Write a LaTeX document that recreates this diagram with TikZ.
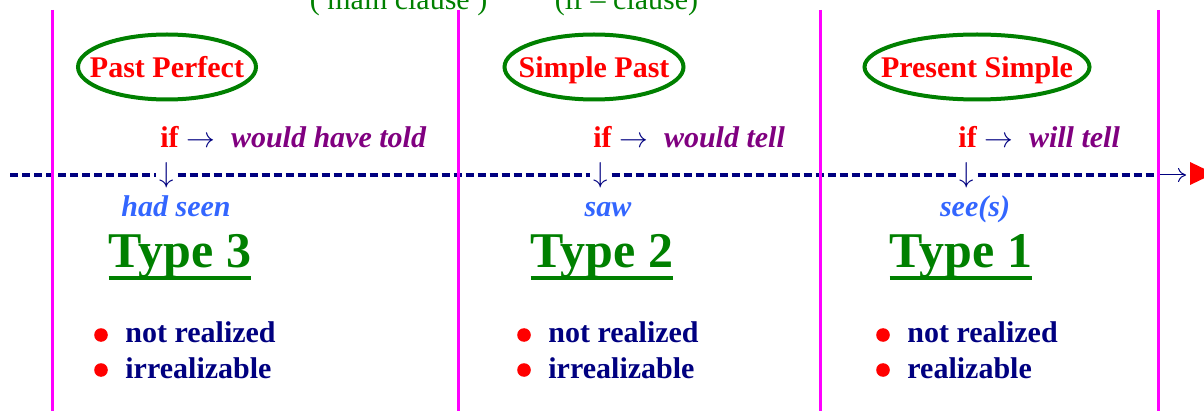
\documentclass[tikz,border=0pt]{standalone}
\usepackage{fontspec}
\setmainfont{Liberation Serif}
\usetikzlibrary{arrows.meta}

\begin{document}
\begin{tikzpicture}[x=0.5pt,y=-0.5pt, font=\fontsize{15}{18}\selectfont,
    zeitform/.style={text=red, font=\bfseries\fontsize{15}{18}\selectfont,
        inner sep=0pt, text height=10.5pt, text depth=0pt},
    ring/.style={draw=darkgreen, line width=2pt},
    kopf/.style={text=darkgreen, inner sep=0pt, anchor=base},
    marke/.style={text=navyblue, inner sep=1.5pt},
    achse/.style={navyblue, line width=2pt, dash pattern=on 4.2pt off 1.8pt},
    trenner/.style={linemagenta, line width=1.5pt},
    form/.style={text=lightblue, font=\bfseries\itshape\fontsize{15}{18}\selectfont,
        inner sep=0pt, anchor=base},
    typ/.style={text=darkgreen, font=\bfseries\fontsize{25}{30}\selectfont,
        inner sep=0pt, anchor=base},
    bullet/.style={circle, fill=red, inner sep=0pt, minimum size=6.8pt},
    merkmal/.style={text=navyblue, font=\bfseries\fontsize{15}{18}\selectfont,
        inner sep=0pt, anchor=base west}]

    % Farben
    \definecolor{linemagenta}{RGB}{255,0,255}
    \definecolor{darkgreen}{RGB}{0,128,0}
    \definecolor{navyblue}{RGB}{0,0,128}
    \definecolor{verbpurple}{RGB}{128,0,128}
    \definecolor{lightblue}{RGB}{51,102,255}

    % Maße
    \def\W{1204}
    \def\H{411}
    \def\A{175}

    \useasboundingbox (0,0) rectangle (\W,\H);

    % Kopfzeile
    \node[kopf] (haupt) at (398.5,9.5) {( main clause )};
    \node[kopf] (wennsatz) at (626.5,9.5) {(if -- clause)};

    % Zeitformen im Oval
    \newcommand{\zeit}[4]{%
        \node[zeitform] (#1) at (#2,67) {#4};
        \draw[ring] (#1) ellipse [x radius=#3pt, y radius=16.25pt];
    }
    \zeit{pp}{167}{44.5}{Past Perfect}
    \zeit{sp}{594}{44.75}{Simple Past}
    \zeit{ps}{977}{56.25}{Present Simple}

    % if-Zeile
    \newcommand{\wenn}[3]{%
        \node[anchor=base west, inner sep=0pt] (#1) at (#2,148)
            {\textcolor{red}{\bfseries if} \textcolor{navyblue}{$\rightarrow$}\hspace{8pt}\textcolor{verbpurple}{\bfseries\itshape #3}};
    }
    \wenn{w3}{160}{would have told}
    \wenn{w2}{593}{would tell}
    \wenn{w1}{958}{will tell}

    % Zeitachse
    \coordinate (anfang) at (10,\A);
    \coordinate (ende) at (1156,\A);
    \coordinate (pfeilstart) at (1160,\A);
    \coordinate (spitze) at (1186,\A);
    \node[marke] (d3) at (167,\A) {$\downarrow$};
    \node[marke] (d2) at (601,\A) {$\downarrow$};
    \node[marke] (d1) at (967,\A) {$\downarrow$};
    \draw[achse] (anfang) -- (d3) -- (d2) -- (d1) -- (ende);
    \draw[navyblue, line width=0.5pt, -{To[length=4pt,width=7pt]}] (pfeilstart) -- (spitze);
    \fill[red] (1190,162) -- (1190,185) -- (1214,173.5) -- cycle;

    % Trennlinien
    \foreach \x in {52,458,820,1158}
        \draw[trenner] (\x,10) -- (\x,\H);

    % Verbformen
    \node[form] (v3) at (176,217) {had seen};
    \node[form] (v2) at (608,217) {saw};
    \node[form] (v1) at (975,217) {see(s)};

    % Typen mit Unterstrich
    \newcommand{\typ}[3]{%
        \node[typ] (#1) at (#2,268) {Type #3};
        \draw[darkgreen, line width=2pt] ([yshift=-5pt]#1.base west) -- ([yshift=-5pt]#1.base east);
    }
    \typ{t3}{180}{3}
    \typ{t2}{602}{2}
    \typ{t1}{961}{1}

    % Merkmale
    \newcommand{\merkpunkt}[4]{%
        \node[bullet] (#1) at (#2,#3) {};
        \node[merkmal] (#1t) at (#2+24,#3+8) {#4};
    }
    \merkpunkt{m31}{101}{335}{not realized}
    \merkpunkt{m32}{101}{370}{irrealizable}
    \merkpunkt{m21}{524}{335}{not realized}
    \merkpunkt{m22}{524}{370}{irrealizable}
    \merkpunkt{m11}{883}{335}{not realized}
    \merkpunkt{m12}{883}{370}{realizable}

\end{tikzpicture}
\end{document}
